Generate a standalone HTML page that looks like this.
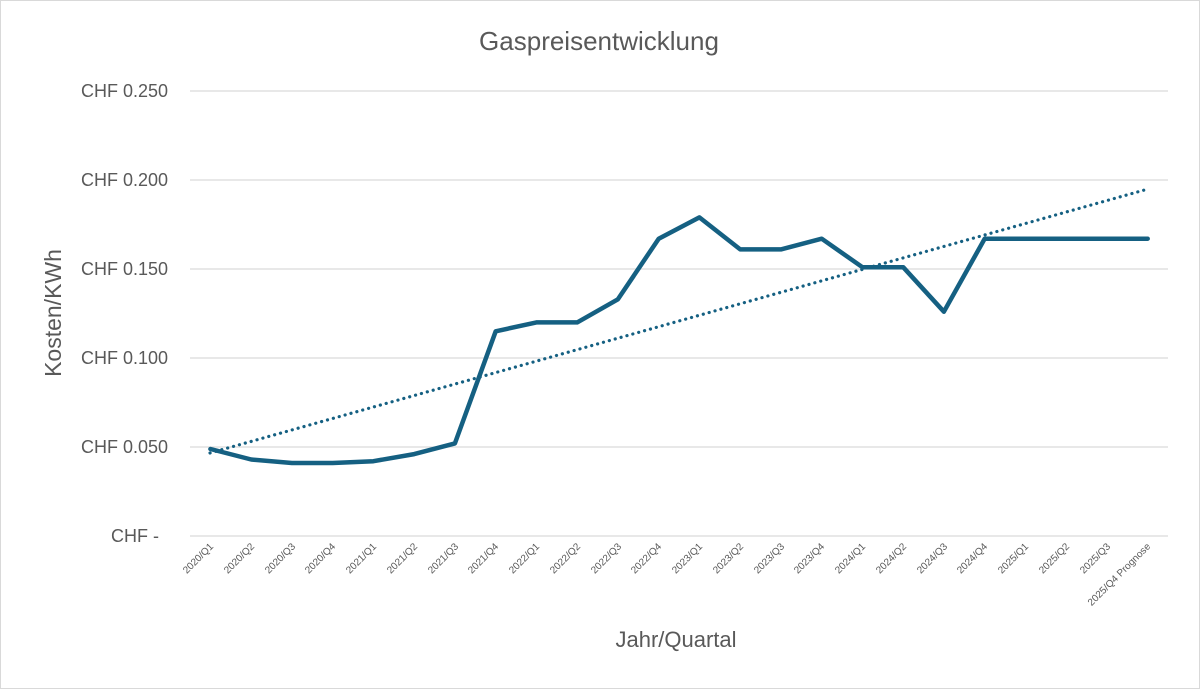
<!DOCTYPE html>
<html><head><meta charset="utf-8"><style>
html,body{margin:0;padding:0;background:#fff}
svg{display:block;font-family:"Liberation Sans",sans-serif}
</style></head><body>
<svg width="1200" height="689" viewBox="0 0 1200 689">
<rect x="0.5" y="0.5" width="1199" height="688" fill="#fff" stroke="#d9d9d9"/>
<text x="599" y="50" font-size="26" fill="#595959" text-anchor="middle">Gaspreisentwicklung</text>
<g stroke="#d9d9d9" stroke-width="1.3">
<line x1="190" x2="1168" y1="91" y2="91"/><line x1="190" x2="1168" y1="180" y2="180"/>
<line x1="190" x2="1168" y1="269" y2="269"/><line x1="190" x2="1168" y1="358" y2="358"/>
<line x1="190" x2="1168" y1="447" y2="447"/><line x1="190" x2="1168" y1="536" y2="536"/>
</g>
<g font-size="18" fill="#595959" text-anchor="end">
<text x="168" y="97">CHF 0.250</text><text x="168" y="186">CHF 0.200</text>
<text x="168" y="275">CHF 0.150</text><text x="168" y="364">CHF 0.100</text>
<text x="168" y="453">CHF 0.050</text><text x="159" y="542">CHF -</text>
</g>
<text transform="translate(61,313) rotate(-90)" font-size="23" fill="#595959" text-anchor="middle">Kosten/KWh</text>
<text x="676" y="647" font-size="22" fill="#595959" text-anchor="middle">Jahr/Quartal</text>
<g font-size="10" fill="#595959" text-anchor="end">
<text transform="translate(214,547) rotate(-45)">2020/Q1</text>
<text transform="translate(255,547) rotate(-45)">2020/Q2</text>
<text transform="translate(296,547) rotate(-45)">2020/Q3</text>
<text transform="translate(336,547) rotate(-45)">2020/Q4</text>
<text transform="translate(377,547) rotate(-45)">2021/Q1</text>
<text transform="translate(418,547) rotate(-45)">2021/Q2</text>
<text transform="translate(459,547) rotate(-45)">2021/Q3</text>
<text transform="translate(499,547) rotate(-45)">2021/Q4</text>
<text transform="translate(540,547) rotate(-45)">2022/Q1</text>
<text transform="translate(581,547) rotate(-45)">2022/Q2</text>
<text transform="translate(622,547) rotate(-45)">2022/Q3</text>
<text transform="translate(662,547) rotate(-45)">2022/Q4</text>
<text transform="translate(703,547) rotate(-45)">2023/Q1</text>
<text transform="translate(744,547) rotate(-45)">2023/Q2</text>
<text transform="translate(785,547) rotate(-45)">2023/Q3</text>
<text transform="translate(825,547) rotate(-45)">2023/Q4</text>
<text transform="translate(866,547) rotate(-45)">2024/Q1</text>
<text transform="translate(907,547) rotate(-45)">2024/Q2</text>
<text transform="translate(948,547) rotate(-45)">2024/Q3</text>
<text transform="translate(988,547) rotate(-45)">2024/Q4</text>
<text transform="translate(1029,547) rotate(-45)">2025/Q1</text>
<text transform="translate(1070,547) rotate(-45)">2025/Q2</text>
<text transform="translate(1111,547) rotate(-45)">2025/Q3</text>
<text transform="translate(1151,547) rotate(-45)">2025/Q4 Prognose</text>
</g>
<line x1="210" y1="453" x2="1148" y2="189" stroke="#156082" stroke-width="3.2" stroke-dasharray="0.1 6" stroke-linecap="round"/>
<polyline fill="none" stroke="#156082" stroke-width="4.5" stroke-linejoin="round" stroke-linecap="round"
points="210.4,449 251.2,459.5 291.9,463 332.7,463 373.4,461.2 414.2,454.1 454.9,443.4 495.7,331.3 536.4,322.4 577.2,322.4 617.9,299.3 658.7,238.7 699.4,217.4 740.2,249.4 780.9,249.4 821.7,238.7 862.4,267.2 903.2,267.2 943.9,311.7 984.7,238.7 1025.4,238.7 1066.2,238.7 1106.9,238.7 1147.7,238.7"/>
</svg>
</body></html>
